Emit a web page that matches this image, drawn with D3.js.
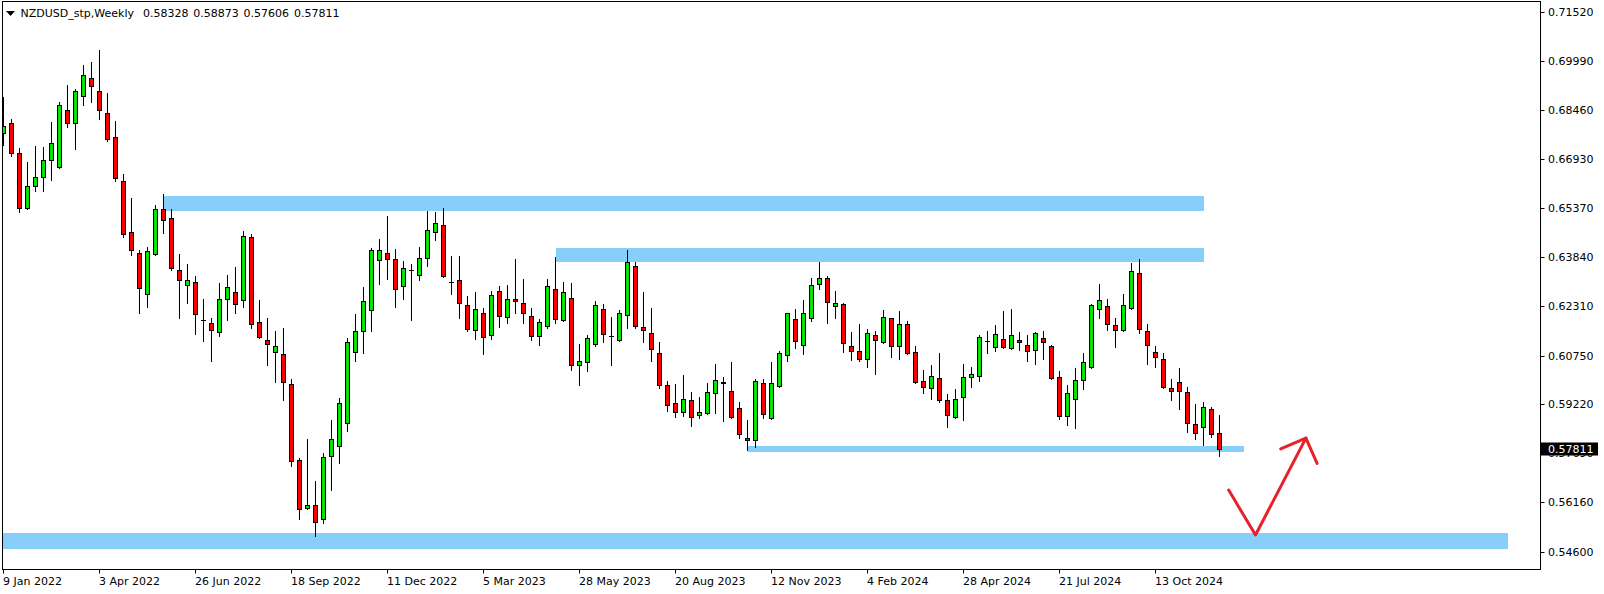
<!DOCTYPE html>
<html><head><meta charset="utf-8">
<script src="https://cdn.jsdelivr.net/npm/d3@7"></script>
<style>body{margin:0;background:#fff;}svg{display:block;}</style>
</head><body>
<svg id="c" width="1604" height="594"></svg>
<script>
// ---- DATA (weekly NZDUSD candles, 9 Jan 2022 .. 8 Dec 2024) ----
const symbolTitle = "NZDUSD_stp,Weekly";
const firstWeek = "2022-01-09";
const open = [0.6773,0.6804,0.6710,0.6537,0.6606,0.6634,0.6688,0.6666,0.6845,0.6804,
0.6889,0.6945,0.6904,0.6835,0.6760,0.6622,0.6462,0.6396,0.6267,0.6393,
0.6534,0.6506,0.6343,0.6296,0.6305,0.6186,0.6176,0.6148,0.6252,0.6274,
0.6248,0.6446,0.6179,0.6123,0.6085,0.6079,0.5985,0.5746,0.5596,0.5605,
0.5563,0.5761,0.5792,0.5863,0.6087,0.6151,0.6217,0.6374,0.6396,0.6377,
0.6292,0.6343,0.6327,0.6380,0.6462,0.6484,0.6307,0.6311,0.6233,0.6154,
0.6208,0.6139,0.6277,0.6195,0.6252,0.6239,0.6198,0.6136,0.6167,0.6283,
0.6186,0.6255,0.6045,0.6054,0.6110,0.6220,0.6136,0.6123,0.6201,0.6355,
0.6164,0.6145,0.6082,0.5982,0.5925,0.5897,0.5935,0.5888,0.5894,0.5957,
0.5990,0.5963,0.5910,0.5815,0.5809,0.5988,0.5878,0.5979,0.6076,0.6189,
0.6107,0.6192,0.6299,0.6318,0.6230,0.6236,0.6104,0.6088,0.6063,0.6139,
0.6117,0.6192,0.6104,0.6173,0.6085,0.5994,0.5972,0.6004,0.5935,0.5881,
0.5944,0.6007,0.6010,0.6121,0.6101,0.6126,0.6098,0.6123,0.6107,0.6092,
0.6129,0.6104,0.6007,0.5885,0.5938,0.5997,0.6040,0.6220,0.6230,0.6170,
0.6154,0.6223,0.6333,0.6151,0.6085,0.6063,0.5972,0.5991,0.5960,0.5859,
0.5850,0.5906,0.58328];
const high = [0.6888,0.6816,0.6725,0.6683,0.6733,0.6730,0.6808,0.6871,0.6924,0.6912,
0.6987,0.6996,0.7034,0.6899,0.6811,0.6644,0.6570,0.6405,0.6415,0.6548,
0.6582,0.6534,0.6394,0.6362,0.6324,0.6253,0.6192,0.6302,0.6327,0.6352,
0.6465,0.6456,0.6250,0.6192,0.6152,0.6162,0.6001,0.5753,0.5813,0.5682,
0.5768,0.5873,0.5941,0.6130,0.6206,0.6290,0.6412,0.6440,0.6512,0.6408,
0.6371,0.6361,0.6415,0.6528,0.6525,0.6537,0.6387,0.6387,0.6262,0.6275,
0.6223,0.6278,0.6292,0.6297,0.6378,0.6315,0.6223,0.6189,0.6315,0.6385,
0.6305,0.6303,0.6112,0.6140,0.6246,0.6236,0.6197,0.6217,0.6405,0.6368,
0.6274,0.6223,0.6117,0.5994,0.5985,0.6013,0.5960,0.5945,0.5988,0.6049,
0.6007,0.6054,0.5928,0.5872,0.6001,0.6001,0.6055,0.6089,0.6209,0.6220,
0.6249,0.6318,0.6369,0.6324,0.6277,0.6239,0.6148,0.6173,0.6157,0.6151,
0.6217,0.6194,0.6214,0.6183,0.6104,0.6029,0.6045,0.6083,0.5954,0.5970,
0.6048,0.6038,0.6139,0.6152,0.6170,0.6214,0.6220,0.6148,0.6139,0.6150,
0.6151,0.6107,0.6027,0.5982,0.6036,0.6082,0.6237,0.6300,0.6252,0.6192,
0.6268,0.6366,0.6378,0.6173,0.6104,0.6082,0.6001,0.6036,0.5978,0.5922,
0.5928,0.5913,0.58873];
const low = [0.6736,0.6702,0.6527,0.6535,0.6593,0.6590,0.6627,0.6664,0.6793,0.6724,
0.6862,0.6872,0.6819,0.6750,0.6624,0.6448,0.6392,0.6210,0.6226,0.6390,
0.6459,0.6345,0.6194,0.6241,0.6144,0.6122,0.6059,0.6138,0.6188,0.6210,
0.6229,0.6163,0.6131,0.6047,0.5993,0.5937,0.5728,0.5563,0.5595,0.5510,
0.5549,0.5654,0.5739,0.5840,0.6058,0.6084,0.6153,0.6301,0.6316,0.6229,
0.6254,0.6188,0.6313,0.6357,0.6437,0.6321,0.6267,0.6192,0.6152,0.6128,
0.6081,0.6128,0.6166,0.6178,0.6208,0.6178,0.6125,0.6109,0.6161,0.6178,
0.6185,0.6031,0.5984,0.6028,0.6104,0.6117,0.6047,0.6122,0.6163,0.6163,
0.6119,0.6059,0.5972,0.5902,0.5883,0.5886,0.5855,0.5878,0.5893,0.5896,
0.5869,0.5880,0.5815,0.5779,0.5787,0.5878,0.5875,0.5975,0.6059,0.6100,
0.6081,0.6183,0.6283,0.6178,0.6194,0.6085,0.6060,0.6057,0.6038,0.6016,
0.6116,0.6070,0.6065,0.6079,0.5988,0.5957,0.5938,0.5931,0.5850,0.5880,
0.5872,0.5978,0.5994,0.6082,0.6089,0.6100,0.6097,0.6092,0.6057,0.6048,
0.6063,0.6003,0.5877,0.5856,0.5849,0.5971,0.6037,0.6192,0.6154,0.6103,
0.6151,0.6222,0.6145,0.6050,0.6038,0.5972,0.5937,0.5909,0.5836,0.5814,
0.5796,0.5819,0.57606];
const close = [0.6796,0.6710,0.6537,0.6607,0.6636,0.6688,0.6741,0.6860,0.6804,0.6904,
0.6955,0.6920,0.6845,0.6756,0.6631,0.6456,0.6405,0.6286,0.6402,0.6534,
0.6502,0.6350,0.6311,0.6311,0.6205,0.6186,0.6156,0.6252,0.6289,0.6238,
0.6449,0.6173,0.6134,0.6110,0.6104,0.5991,0.5743,0.5593,0.5605,0.5554,
0.5756,0.5812,0.5925,0.6117,0.6151,0.6245,0.6405,0.6405,0.6377,0.6283,
0.6349,0.6343,0.6380,0.6468,0.6490,0.6324,0.6307,0.6239,0.6160,0.6220,
0.6132,0.6264,0.6198,0.6252,0.6245,0.6208,0.6136,0.6180,0.6292,0.6189,
0.6274,0.6045,0.6057,0.6129,0.6233,0.6142,0.6136,0.6208,0.6368,0.6167,
0.6154,0.6095,0.5982,0.5919,0.5897,0.5938,0.5881,0.5897,0.5960,0.5997,
0.5991,0.5881,0.5828,0.5809,0.5994,0.5893,0.5988,0.6082,0.6208,0.6120,
0.6208,0.6296,0.6318,0.6242,0.6239,0.6114,0.6088,0.6063,0.6145,0.6123,
0.6195,0.6104,0.6173,0.6082,0.5991,0.5975,0.6010,0.5935,0.5888,0.5938,
0.6007,0.6016,0.6132,0.6121,0.6142,0.6101,0.6139,0.6117,0.6089,0.6145,
0.6117,0.6006,0.5885,0.5957,0.5997,0.6054,0.6233,0.6248,0.6173,0.6154,
0.6233,0.6340,0.6158,0.6107,0.6070,0.5975,0.5963,0.5963,0.5863,0.5831,
0.5913,0.5828,0.57811];
const yTickValues = [0.71520,0.69990,0.68460,0.66930,0.65370,0.63840,0.62310,0.60750,0.59220,0.57690,0.56160,0.54600];
const xTickLabels = ["9 Jan 2022","3 Apr 2022","26 Jun 2022","18 Sep 2022","11 Dec 2022","5 Mar 2023","28 May 2023","20 Aug 2023","12 Nov 2023","4 Feb 2024","28 Apr 2024","21 Jul 2024","13 Oct 2024"];
// zones: [first bar, last bar, upper price, lower price]
const zoneStart = [20, 69, 93, -2];
const zoneEnd   = [150, 150, 155, 188];
const zoneUpper = [0.6576, 0.6413, 0.5791, 0.5518];
const zoneLower = [0.6530, 0.6370, 0.5774, 0.5468];
// hand-drawn arrow: [bar position, price]
const arrowLine = [[153.15,0.5653],[156.5,0.5512],[162.8,0.5816]];
const arrowHead = [[159.65,0.5782],[162.8,0.5816],[164.2,0.5737]];

// ---- LAYOUT ----
const W = 1604, H = 594;
const plot = {left: 2.5, top: 1.5, right: 1540.5, bottom: 569.5};
const UP = "#00e600", DOWN = "#ff0000", ZONE = "#87cefa", ARROW = "#e8202a";
const FONT = "'DejaVu Sans', Verdana, sans-serif";

const parse = d3.utcParse("%Y-%m-%d");
const fmt = d3.utcFormat("%-d %b %Y");
const weeks = d3.utcWeek.range(parse(firstWeek), d3.utcWeek.offset(parse(firstWeek), open.length));
const candles = weeks.map((d,i) => ({date:d, o:open[i], h:high[i], l:low[i], c:close[i]}));

const x = d3.scaleLinear().domain([0, candles.length - 1]).range([3.5, 3.5 + 8 * (candles.length - 1)]);
const y = d3.scaleLinear().domain([0.54600, 0.71520]).range([551.6, 12.4]);
const ry = v => Math.round(y(v)) + 0.5;

const svg = d3.select("#c");
svg.append("rect").attr("width", W).attr("height", H).attr("fill", "#fff");
svg.append("defs").append("clipPath").attr("id", "clip")
  .append("rect").attr("x", plot.left + 0.5).attr("y", plot.top + 0.5)
  .attr("width", plot.right - plot.left - 1).attr("height", plot.bottom - plot.top - 1);

const g = svg.append("g").attr("clip-path", "url(#clip)");

// zones
g.selectAll("rect.zone").data(zoneStart).join("rect").attr("class", "zone")
  .attr("x", (d,i) => Math.round(x(zoneStart[i])))
  .attr("width", (d,i) => Math.round(x(zoneEnd[i])) - Math.round(x(zoneStart[i])))
  .attr("y", (d,i) => Math.round(y(zoneUpper[i])))
  .attr("height", (d,i) => Math.round(y(zoneLower[i])) - Math.round(y(zoneUpper[i])))
  .attr("fill", ZONE);

// candles
const cg = g.selectAll("g.candle").data(candles).join("g").attr("class", "candle");
cg.append("line")
  .attr("x1", (d,i) => x(i)).attr("x2", (d,i) => x(i))
  .attr("y1", d => ry(d.h) - 0.5).attr("y2", d => ry(d.l) + 0.5)
  .attr("stroke", "#000").attr("stroke-width", 1);
cg.each(function(d, i) {
  const sel = d3.select(this);
  const t = ry(Math.max(d.o, d.c)), b = ry(Math.min(d.o, d.c));
  const cx = x(i);
  if (b - t < 1) {
    sel.append("line").attr("x1", cx - 2.5).attr("x2", cx + 2.5)
      .attr("y1", t).attr("y2", t).attr("stroke", "#000").attr("stroke-width", 1);
  } else {
    sel.append("rect").attr("x", cx - 2).attr("y", t).attr("width", 4).attr("height", b - t)
      .attr("fill", d.c >= d.o ? UP : DOWN).attr("stroke", "#000").attr("stroke-width", 1);
  }
});

// arrow
const line = d3.line().x(d => x(d[0])).y(d => y(d[1]));
g.append("path").attr("d", line(arrowLine)).attr("fill", "none")
  .attr("stroke", ARROW).attr("stroke-width", 3).attr("stroke-linejoin", "round").attr("stroke-linecap", "round");
g.append("path").attr("d", line(arrowHead)).attr("fill", "none")
  .attr("stroke", ARROW).attr("stroke-width", 3).attr("stroke-linejoin", "round").attr("stroke-linecap", "round");

// frame
svg.append("rect").attr("x", plot.left).attr("y", plot.top)
  .attr("width", plot.right - plot.left).attr("height", plot.bottom - plot.top)
  .attr("fill", "none").attr("stroke", "#000").attr("stroke-width", 1);

// right axis
const ya = svg.append("g");
yTickValues.forEach(v => {
  const yy = ry(v);
  ya.append("line").attr("x1", plot.right).attr("x2", plot.right + 4)
    .attr("y1", yy).attr("y2", yy).attr("stroke", "#000");
  ya.append("text").attr("x", plot.right + 7.5).attr("y", yy).attr("dy", "0.36em")
    .attr("font-family", FONT).attr("font-size", 11).attr("fill", "#000")
    .text(d3.format(".5f")(v));
});

// last price box (covers most of the neighbouring tick label, as in the original)
const lastC = close[close.length - 1];
const ly = ry(lastC);
svg.append("rect").attr("x", plot.right - 0.5).attr("y", ly - 7).attr("width", 58).attr("height", 13).attr("fill", "#000");
svg.append("text").attr("x", plot.right + 7.5).attr("y", ly - 0.5).attr("dy", "0.36em")
  .attr("font-family", FONT).attr("font-size", 11).attr("fill", "#fff")
  .text(d3.format(".5f")(lastC));

// bottom axis
const xa = svg.append("g");
xTickLabels.forEach(lbl => {
  const idx = candles.findIndex(c => fmt(c.date) === lbl);
  if (idx < 0) return;
  const xx = x(idx);
  xa.append("line").attr("x1", xx).attr("x2", xx).attr("y1", plot.bottom).attr("y2", plot.bottom + 4).attr("stroke", "#000");
  xa.append("text").attr("x", xx - 0.5).attr("y", plot.bottom + 15)
    .attr("font-family", FONT).attr("font-size", 11).attr("fill", "#000").text(lbl);
});

// header
svg.append("path").attr("d", "M6,11 L15,11 L10.5,16 Z").attr("fill", "#000");
svg.append("text").attr("x", 20.5).attr("y", 17).attr("font-family", FONT).attr("font-size", 11)
  .attr("fill", "#000").text(symbolTitle);
const last = candles[candles.length - 1];
[last.o, last.h, last.l, last.c].forEach((v, i) => {
  svg.append("text").attr("x", 143 + i * 50.3).attr("y", 17).attr("font-family", FONT).attr("font-size", 11)
    .attr("fill", "#000").text(d3.format(".5f")(v));
});
</script>
</body></html>
